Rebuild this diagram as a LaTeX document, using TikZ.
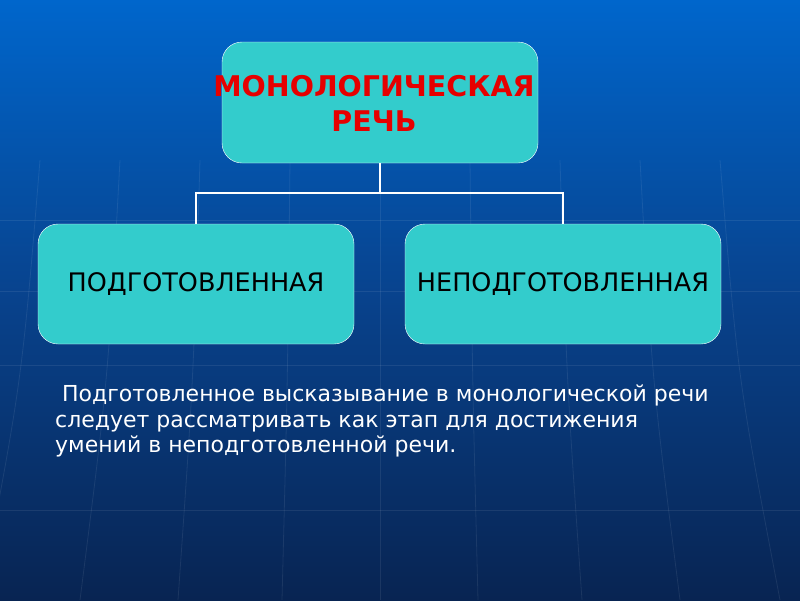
\documentclass[tikz,border=0pt]{standalone}
\usepackage{fontspec}
\setmainfont{DejaVu Sans}
\usetikzlibrary{positioning}

\definecolor{bgtop}{RGB}{0,102,204}
\definecolor{bgmid}{RGB}{8,66,140}
\definecolor{bgbot}{RGB}{8,36,82}
\definecolor{boxfill}{RGB}{51,204,204}
\definecolor{titlered}{RGB}{230,0,0}

\begin{document}
\begin{tikzpicture}[x=1pt,y=-1pt,
                    main box/.style={rectangle,rounded corners=20pt,draw=white,thin,fill=boxfill,
                                     minimum width=316pt,inner sep=0pt,align=center},
                    link/.style={draw=white,line width=1.6pt},
                    grid line/.style={draw=white,opacity=0.08,line width=0.8pt}]

          % background
          \shade[top color=bgtop,bottom color=bgbot,middle color=bgmid] (0,0) rectangle (800,600);
          \useasboundingbox (0,0) rectangle (800,600);

          % faint globe lines
          \foreach \yy in {220,291,365,510}
            \path[grid line] (0,\yy) -- (800,\yy);
          \foreach \xx/\bend in {40/-60,120/-40,200/-22,290/-8,380/0,470/8,560/22,640/40,720/60}
            \path[grid line] (\xx,160) .. controls (\xx+\bend*0.3,380) .. (\xx+\bend,600);

          \node[main box,minimum height=121pt] (mono) at (380,102.5) {};
          \node[align=center,inner sep=0pt,text=titlered,font=\bfseries\fontsize{28.5}{35}\selectfont]
               (mono text) at (374,103) {МОНОЛОГИЧЕСКАЯ\\ РЕЧЬ};
          \node[main box,minimum height=120pt,font=\fontsize{25.5}{30}\selectfont] (prep) at (196,284)
               {ПОДГОТОВЛЕННАЯ};
          \node[main box,minimum height=120pt,font=\fontsize{25.5}{30}\selectfont] (unprep) at (563,284)
               {НЕПОДГОТОВЛЕННАЯ};

          \coordinate (fork) at (380,193);

          \path[link] (mono.south) -- (fork);
          \path[link] (prep.north) |- (fork) -| (unprep.north);

          \node[anchor=north west,text=white,align=left,inner sep=0pt,font=\fontsize{22}{25.5}\selectfont] (note) at (55,385)
               {\hspace{7pt}Подготовленное высказывание в монологической речи\\
                следует рассматривать как этап для достижения\\
                умений в неподготовленной речи.};

        \end{tikzpicture}
\end{document}
